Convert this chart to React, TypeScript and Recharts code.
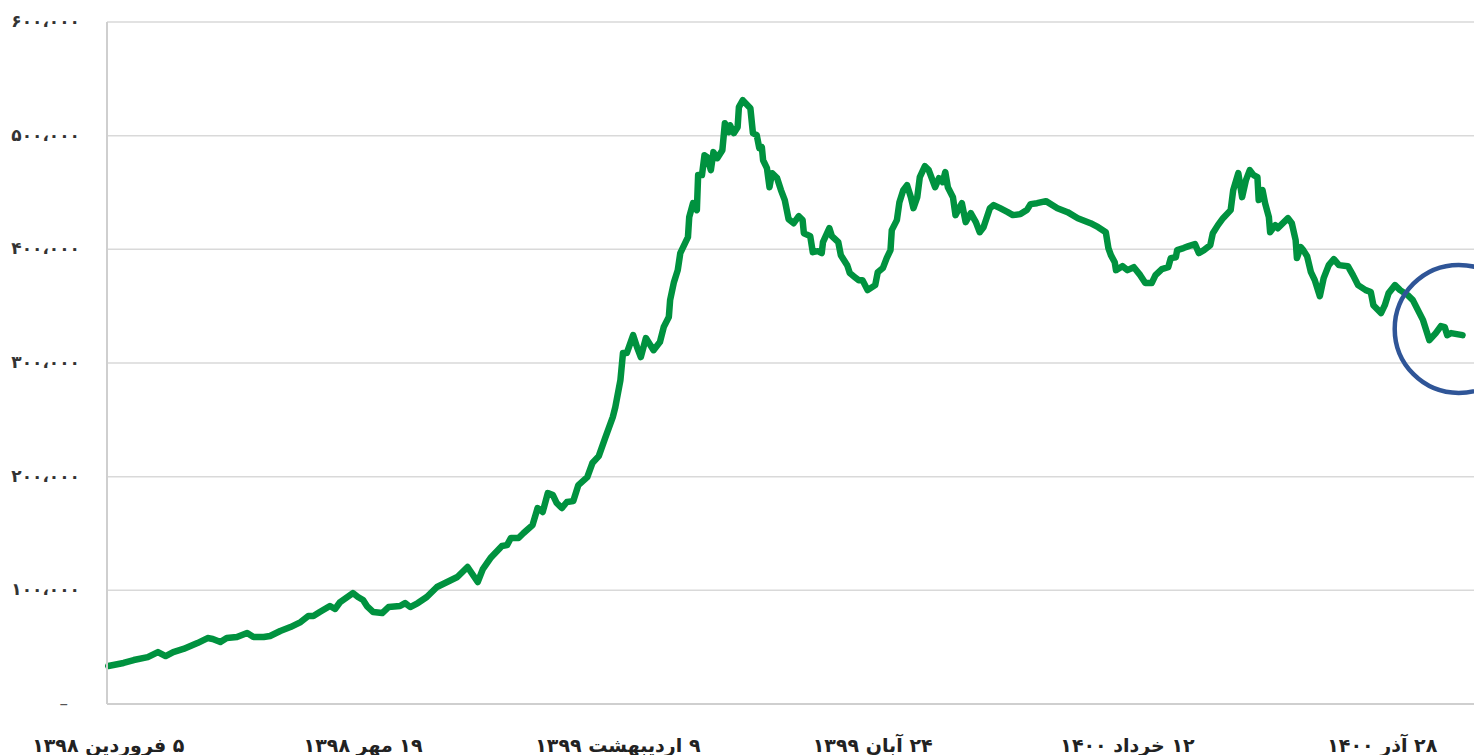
import { LineChart, Line, XAxis, YAxis, CartesianGrid, ReferenceDot } from "recharts";

// day index since 5 Farvardin 1398
const days = [
  0, 12, 20, 31, 39, 45, 51, 59, 70, 78,
  82, 88, 93, 101, 109, 114, 122, 127, 135, 143,
  151, 157, 161, 166, 174, 178, 182, 192, 196, 200,
  203, 208, 215, 220, 229, 233, 237, 243, 250, 258,
  266, 274, 282, 290, 294, 300, 309, 313, 316, 322,
  326, 333, 337, 341, 345, 349, 352, 356, 360, 365,
  369, 376, 380, 385, 390, 396, 398, 402, 404, 407,
  412, 415, 418, 422, 428, 433, 436, 440, 441, 444,
  447, 449, 455, 456, 459, 462, 463, 466, 468, 470,
  473, 475, 478, 482, 484, 487, 488, 491, 494, 495,
  498, 504, 506, 509, 511, 513, 514, 517, 519, 521,
  525, 528, 531, 534, 538, 542, 545, 546, 551, 553,
  557, 560, 561, 566, 568, 573, 575, 580, 582, 586,
  589, 592, 596, 602, 604, 608, 611, 614, 615, 619,
  621, 624, 627, 630, 632, 635, 637, 641, 644, 649,
  652, 655, 657, 659, 663, 665, 670, 673, 677, 681,
  684, 687, 692, 695, 700, 706, 710, 716, 721, 724,
  729, 736, 745, 753, 761, 771, 777, 783, 785, 787,
  790, 791, 796, 800, 805, 810, 814, 819, 822, 827,
  832, 834, 838, 839, 844, 848, 853, 856, 860, 865,
  867, 871, 875, 881, 883, 887, 890, 893, 896, 899,
  902, 903, 906, 908, 911, 912, 916, 918, 926, 929,
  932, 933, 936, 938, 941, 944, 947, 951, 954, 958,
  962, 966, 973, 977, 981, 987, 991, 993, 999, 1002,
  1005, 1010, 1014, 1020, 1024, 1028, 1032, 1037, 1042, 1046,
  1049, 1051, 1054, 1063,
];

const index = [
  33400, 36100, 38700, 41300, 45700, 42200, 45700, 48400, 53600, 58000,
  57200, 54500, 58000, 58900, 62400, 58900, 58900, 59800, 64200, 67700,
  72100, 77400, 77400, 80900, 86200, 83600, 89700, 97600, 94100, 91500,
  86200, 80900, 80000, 85300, 86200, 88800, 85300, 88800, 94100, 102900,
  107300, 111700, 120500, 107300, 118700, 128400, 139000, 139800, 146000, 146000,
  150400, 157400, 172400, 168900, 185600, 183800, 176800, 172400, 177700, 178500,
  192600, 199600, 212000, 218100, 233900, 252400, 261200, 285000, 308700, 308700,
  324500, 314000, 305200, 321900, 311300, 318400, 331600, 340400, 355300, 371100,
  381700, 396700, 410700, 428300, 440600, 434500, 465300, 465300, 482800, 481100,
  469700, 485500, 480200, 487200, 511000, 503100, 509200, 502200, 507500, 525100,
  531200, 524200, 502200, 500400, 489000, 489900, 478400, 471400, 454700, 467000,
  462600, 452100, 443300, 426600, 423000, 429200, 425700, 414200, 411600, 397500,
  398400, 396700, 406300, 418600, 411600, 406300, 394900, 386100, 379100, 375500,
  372900, 372900, 364100, 368500, 379900, 383500, 392300, 399300, 416900, 425700,
  441500, 452100, 456500, 445900, 436200, 445900, 463500, 473200, 469700, 454700,
  462600, 459100, 467900, 454700, 445900, 430100, 440600, 423900, 431800, 423900,
  415100, 419500, 436200, 438900, 436200, 432700, 430100, 431000, 434500, 439800,
  440600, 442400, 436200, 432700, 427400, 423000, 419500, 415100, 401100, 394900,
  388700, 381700, 385200, 381700, 384300, 377300, 370300, 370300, 377300, 382600,
  384300, 392300, 393100, 399300, 401100, 402800, 404600, 396700, 399300, 403700,
  414200, 421300, 427400, 434500, 452100, 467000, 445900, 460900, 469700, 465300,
  463500, 443300, 452100, 440600, 428300, 415100, 421300, 418600, 427400, 423000,
  408100, 392300, 401900, 399300, 394000, 379900, 372900, 358800, 374700, 386100,
  391400, 386100, 385200, 377300, 368500, 364100, 362400, 350900, 343900, 350900,
  361500, 368500, 364100, 359700, 355300, 346500, 337700, 320100, 326300, 332500,
  331600, 324500, 326300, 324500,
];

const xTicks = [0, 200, 400, 600, 800, 1000];
const xLabels = ["۵ فروردین ۱۳۹۸", "۱۹ مهر ۱۳۹۸", "۹ اردیبهشت ۱۳۹۹", "۲۴ آبان ۱۳۹۹", "۱۲ خرداد ۱۴۰۰", "۲۸ آذر ۱۴۰۰"];
const yTicks = [0, 100000, 200000, 300000, 400000, 500000, 600000];

// highlighted last stretch
const highlight = { day: 1060, value: 330000 };

const data = days.map((d, i) => ({ day: d, value: index[i] }));

const FONT = "'DejaVu Sans', sans-serif";

const toFa = (s: string) => s.replace(/\d/g, (d) => "۰۱۲۳۴۵۶۷۸۹"[Number(d)]);

function YTick({ x, y, payload }: any) {
  if (payload.value === 0) {
    return (
      <text x={x - 31} y={y} dy={5} textAnchor="end" fontFamily={FONT} fontSize={17} fill="#555">
        –
      </text>
    );
  }
  const label = toFa(Math.round(payload.value / 1000) + "،۰۰۰");
  return (
    <text x={x - 19} y={y} dy={5} textAnchor="end" fontFamily={FONT} fontSize={17} fontWeight="bold" fill="#333">
      {label}
    </text>
  );
}

function XTick({ x, y, payload }: any) {
  const i = xTicks.indexOf(payload.value);
  return (
    <text x={x} y={y} dy={40} textAnchor="middle" direction="rtl" fontFamily={FONT} fontSize={19} fontWeight="bold" fill="#222">
      {xLabels[i]}
    </text>
  );
}

export default function App() {
  return (
    <div style={{ position: "absolute", left: 0, top: 0, width: 1474, height: 755, background: "#fff" }}>
      <LineChart width={1474} height={755} data={data} margin={{ top: 22, right: 0, left: 0, bottom: 0 }}>
        <CartesianGrid horizontal vertical={false} stroke="#d9d9d9" strokeWidth={1.5} />
        <XAxis
          dataKey="day"
          type="number"
          domain={[-1, 1072]}
          ticks={xTicks}
          tick={<XTick />}
          tickLine={false}
          axisLine={{ stroke: "#cfcfcf", strokeWidth: 2 }}
          height={51}
          interval={0}
        />
        <YAxis
          domain={[0, 600000]}
          ticks={yTicks}
          tick={<YTick />}
          tickLine={false}
          axisLine={{ stroke: "#cfcfcf", strokeWidth: 2 }}
          width={107}
          interval={0}
        />
        <Line
          type="linear"
          dataKey="value"
          stroke="#00923f"
          strokeWidth={6.5}
          strokeLinejoin="round"
          strokeLinecap="round"
          dot={false}
          isAnimationActive={false}
        />
        <ReferenceDot
          x={highlight.day}
          y={highlight.value}
          r={64}
          fill="none"
          stroke="#2f5597"
          strokeWidth={4.5}
        />
      </LineChart>
    </div>
  );
}
